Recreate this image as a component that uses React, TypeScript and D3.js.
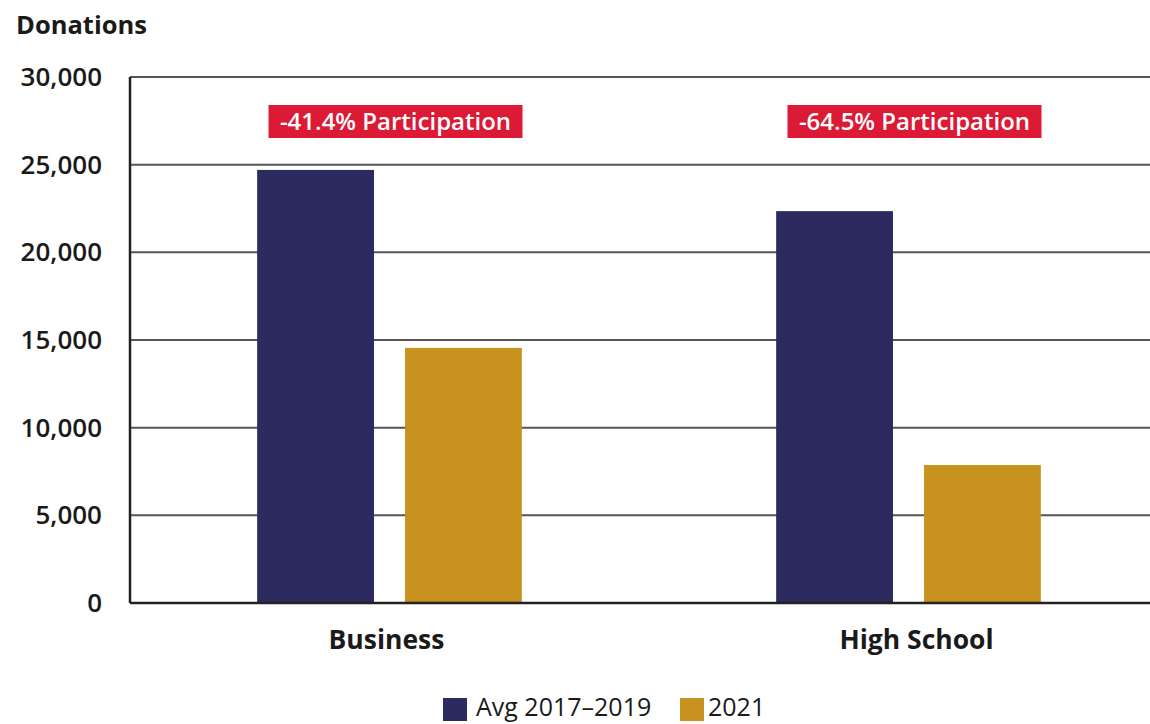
import React from "react";
import * as d3 from "d3";

const categories = ["Business", "High School"];
const series = ["Avg 2017–2019", "2021"];
const avgValues = [24700, 22350];
const values2021 = [14550, 7870];
const participation = ["-41.4% Participation", "-64.5% Participation"];
const yTicks = [0, 5000, 10000, 15000, 20000, 25000, 30000];
const colors = ["#2c2a5e", "#c8921f"];

const W = 1150;
const H = 724;
const FONT = "'Open Sans', 'Noto Sans', sans-serif";

export default function App() {
  const left = 130;
  const top = 77;
  const bottom = 603;
  const x0 = d3.scaleBand<string>().domain(categories).range([left, left + 1038]).paddingInner(0.49).paddingOuter(0.245);
  const x1 = d3.scaleBand<string>().domain(series).range([0, x0.bandwidth()]).paddingInner(0.21).paddingOuter(0);
  const y = d3.scaleLinear().domain([0, 30000]).range([bottom, top]);
  const fmt = d3.format(",");
  const data = categories.map((c, i) => ({ c, vals: [avgValues[i], values2021[i]], label: participation[i] }));

  return (
    <svg width={W} height={H} style={{ position: "absolute", left: 0, top: 0, background: "#fff" }} fontFamily={FONT}>
      <text x={16} y={34} fontSize={25.5} fontWeight={700} fill="#1a1a1a">Donations</text>
      {yTicks.map((t) => (
        <g key={t}>
          {t > 0 && <line x1={left} x2={W} y1={y(t)} y2={y(t)} stroke="#555" strokeWidth={2} />}
          <text x={102} y={y(t)} dy="0.35em" textAnchor="end" fontSize={26} fontWeight={600} fill="#1a1a1a">{fmt(t)}</text>
        </g>
      ))}
      {data.map((d) => (
        <g key={d.c} transform={`translate(${x0(d.c)},0)`}>
          {d.vals.map((v, j) => (
            <rect key={j} x={x1(series[j])} y={y(v)} width={x1.bandwidth()} height={bottom - y(v)} fill={colors[j]} />
          ))}
        </g>
      ))}
      <line x1={left} x2={left} y1={top} y2={bottom} stroke="#222" strokeWidth={2.5} />
      <line x1={left} x2={W} y1={bottom} y2={bottom} stroke="#222" strokeWidth={2.5} />
      {data.map((d) => {
        const cx = (x0(d.c) as number) + x0.bandwidth() / 2 + 6;
        return (
          <g key={d.c + "lab"}>
            <rect x={cx - 127} y={105} width={254} height={33} fill="#dc1a35" />
            <text x={cx} y={122} dy="0.35em" textAnchor="middle" fontSize={24} fontWeight={600} fill="#fff">{d.label}</text>
          </g>
        );
      })}
      {categories.map((c) => (
        <text key={c} x={(x0(c) as number) + x0.bandwidth() / 2 + (c === "High School" ? 8 : -3)} y={649} textAnchor="middle" fontSize={26.5} fontWeight={700} fill="#1a1a1a">{c}</text>
      ))}
      <g>
        <rect x={443} y={698} width={24} height={23} fill={colors[0]} />
        <text x={476} y={716} fontSize={25} fontWeight={500} fill="#1a1a1a">{series[0]}</text>
        <rect x={680} y={698} width={24} height={23} fill={colors[1]} />
        <text x={708} y={716} fontSize={25} fontWeight={500} fill="#1a1a1a">{series[1]}</text>
      </g>
    </svg>
  );
}
